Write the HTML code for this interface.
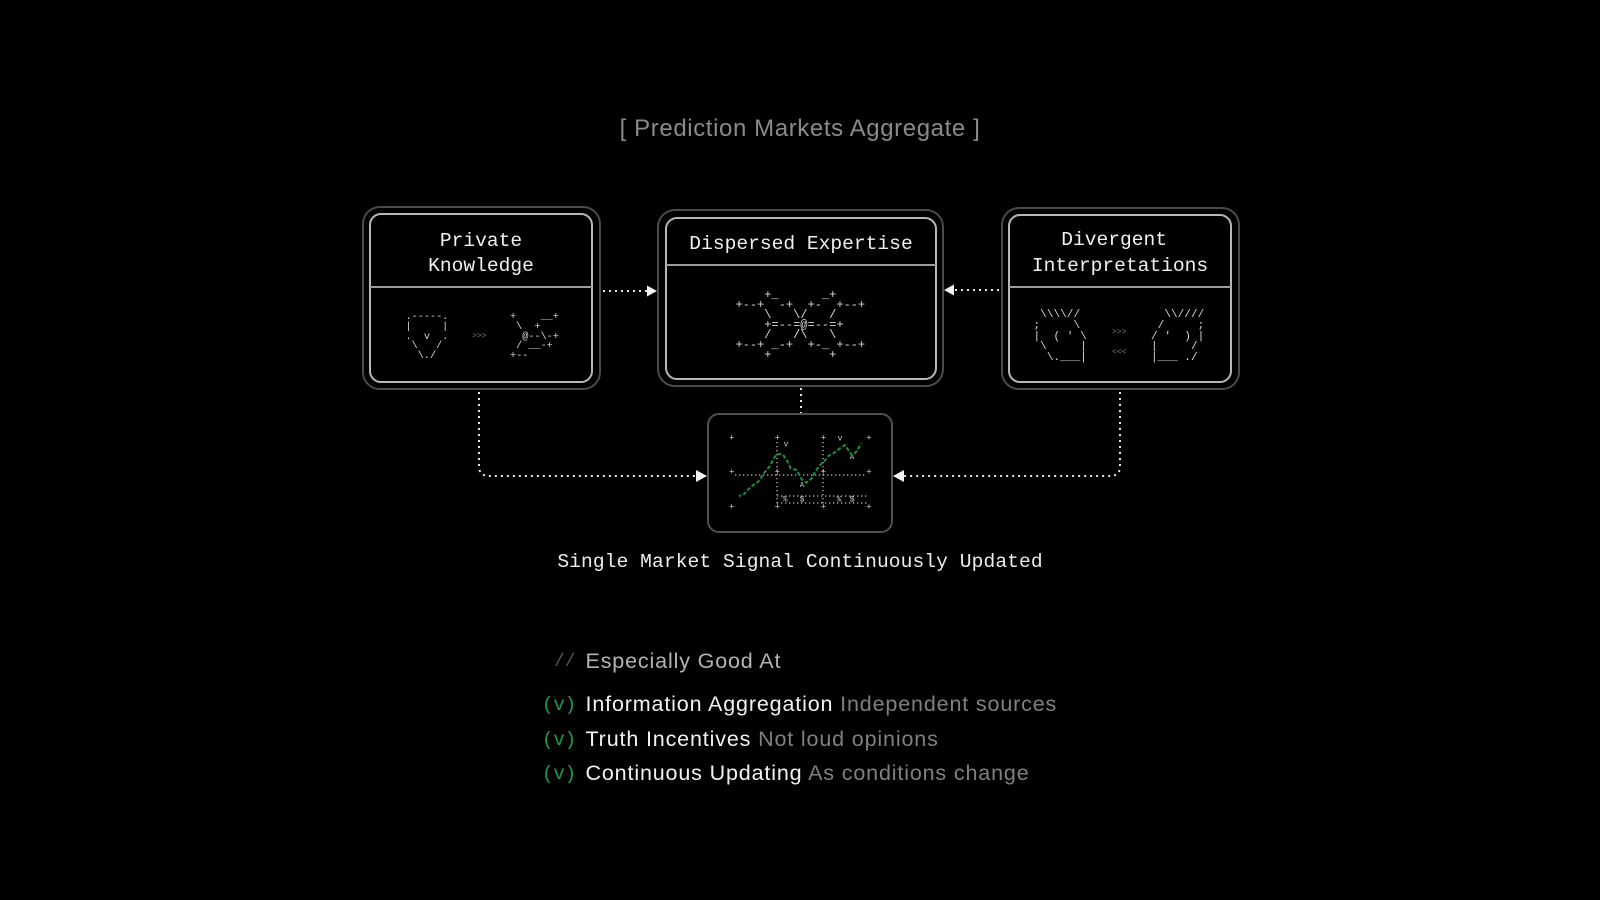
<!DOCTYPE html>
<html>
<head>
<meta charset="utf-8">
<style>
  html,body{margin:0;padding:0;background:#000;}
  #c{position:relative;width:1600px;height:900px;background:#000;overflow:hidden;}
  .abs{position:absolute;}
  .outer{position:absolute;box-sizing:border-box;border:2px solid #4a4a4a;border-radius:18px;}
  .inner{position:absolute;box-sizing:border-box;border:2px solid #b8b8b8;border-radius:12px;}
  .div{position:absolute;height:2px;background:#9c9c9c;}
  .ttl{position:absolute;font-family:"Liberation Mono",monospace;font-size:19.6px;color:#f0f0f0;text-align:center;white-space:pre;}
  .art{position:absolute;font-family:"Liberation Mono",monospace;white-space:pre;color:#d8d8d8;}
  .sans{font-family:"Liberation Sans",sans-serif;}
  .mono{font-family:"Liberation Mono",monospace;}
  .li{position:absolute;left:585.5px;font-family:"Liberation Sans",sans-serif;font-size:21.5px;letter-spacing:0.85px;line-height:24px;white-space:nowrap;}
</style>
</head>
<body>
<div id="c">

  <!-- Title -->
  <div class="abs sans" style="left:0;top:115px;width:1600px;text-align:center;font-size:24px;letter-spacing:0.6px;line-height:28px;color:#8a8a8a;">[ Prediction Markets Aggregate ]</div>

  <!-- Box 1 -->
  <div class="outer" style="left:362px;top:206px;width:239px;height:184px;"></div>
  <div class="inner" style="left:369px;top:213px;width:224px;height:170px;"></div>
  <div class="div" style="left:370px;top:286px;width:222px;"></div>
  <div class="ttl" style="left:369px;top:229px;width:224px;line-height:25px;">Private
Knowledge</div>
  <div class="art" style="left:405.5px;top:313px;font-size:10.2px;line-height:9.8px;">.-----.
|     |
.  v  .
 \   /
  \./</div>
  <div class="art" style="left:472px;top:332px;font-size:8px;line-height:9px;color:#7a7a7a;">&gt;&gt;&gt;</div>
  <div class="art" style="left:510px;top:313px;font-size:10.2px;line-height:9.8px;">+    __+
 \  +
  @--\-+
 / __-+
+--</div>

  <!-- Box 2 -->
  <div class="outer" style="left:657px;top:209px;width:287px;height:178px;"></div>
  <div class="inner" style="left:665px;top:217px;width:272px;height:163px;"></div>
  <div class="div" style="left:666px;top:264px;width:270px;"></div>
  <div class="ttl" style="left:665px;top:232px;width:272px;line-height:25px;">Dispersed Expertise</div>
  <div class="art" style="left:735.5px;top:290px;font-size:12px;line-height:10px;">    +_      _+
+--+  -+  +-  +--+
    \   \/   /
    +=--=@=--=+
    /   /\   \
+--+ _-+  +-_ +--+
    +        +</div>

  <!-- Box 3 -->
  <div class="outer" style="left:1001px;top:207px;width:239px;height:183px;"></div>
  <div class="inner" style="left:1008px;top:214px;width:224px;height:169px;"></div>
  <div class="div" style="left:1009px;top:286px;width:222px;"></div>
  <div class="ttl" style="left:1008px;top:227px;width:224px;line-height:26px;">Divergent 
Interpretations</div>
  <div class="art" style="left:1033.5px;top:310px;font-size:11.1px;line-height:10.8px;"> \\\\//
;     \
|  ( ' \
 \     |
  \.___|</div>
  <div class="art" style="left:1112px;top:323px;font-size:8px;line-height:20px;color:#7a7a7a;">&gt;&gt;&gt;
&lt;&lt;&lt;</div>
  <div class="art" style="left:1151px;top:310px;font-size:11.1px;line-height:10.8px;">  \\////
 /     ;
/ '  ) |
|     /
|___ ./</div>

  <!-- Chart box -->
  <div class="abs" style="left:707px;top:413px;width:186px;height:120px;box-sizing:border-box;border:2px solid #505050;border-radius:12px;"></div>

  <svg class="abs" style="left:0;top:0;" width="1600" height="900" viewBox="0 0 1600 900">
    <!-- connectors -->
    <g stroke="#e6e6e6" stroke-width="2" stroke-dasharray="2 4" fill="none">
      <path d="M603 291 H648"/>
      <path d="M999 290 H954"/>
      <path d="M801 388 V413"/>
      <path d="M479 392 V466 Q479 476 489 476 H697"/>
      <path d="M1120 392 V466 Q1120 476 1110 476 H903"/>
    </g>
    <g fill="#f2f2f2">
      <polygon points="657,291 647,285.5 647,296.5"/>
      <polygon points="944,290 954,284.5 954,295.5"/>
      <polygon points="707,476 696,470 696,482"/>
      <polygon points="893,476 904,470 904,482"/>
    </g>

    <!-- chart grid dotted lines -->
    <g stroke="#bdbdbd" stroke-width="1.3" stroke-dasharray="1.3 2.7" fill="none">
      <path d="M735 475 H867"/>
      <path d="M777 442 V505"/>
      <path d="M823 442 V505"/>
      <path d="M777 496 H867"/>
      <path d="M777 503 H867"/>
    </g>
    <g font-family="Liberation Mono, monospace" font-size="9" fill="#cfcfcf" text-anchor="middle" dominant-baseline="central">
      <text x="731.7" y="438.3">+</text>
      <text x="777.3" y="438.3">+</text>
      <text x="823.3" y="438.3">+</text>
      <text x="869" y="438.3">+</text>
      <text x="731.7" y="472.7">+</text>
      <text x="777.3" y="472.7">+</text>
      <text x="823.3" y="472.7">+</text>
      <text x="869" y="472.7">+</text>
      <text x="731.7" y="507.7">+</text>
      <text x="777.3" y="507.7">+</text>
      <text x="823.3" y="507.7">+</text>
      <text x="869" y="507.7">+</text>
      <text x="786" y="445" font-size="8">v</text>
      <text x="840" y="439" font-size="8">v</text>
      <text x="802" y="486" font-size="7">A</text>
      <text x="852" y="458" font-size="7">A</text>
      <text x="785" y="500" font-size="8">%</text>
      <text x="802" y="500" font-size="8">$</text>
      <text x="839" y="500" font-size="8">%</text>
      <text x="852" y="500" font-size="8">$</text>
    </g>
    <!-- green price line -->
    <polyline fill="none" stroke="#1e8c3c" stroke-width="2" stroke-dasharray="4 2"
      points="743.3,495 748.3,489.3 753.3,485 758.3,481.7 765,471.7 770,466 774,458.3 776.7,454.3 782.7,454.3 786.7,460 790.7,468.3 796.7,470 801.7,479.3 806.7,482.7 811.7,478.3 815,471.7 820,465 824,461.7 828.3,456 833.3,453.3 840,448.3 845,445 848.3,450 851.7,455 855,453.3 858.3,448.3 861.7,443.3"/>
    <text x="740" y="500" font-family="Liberation Mono, monospace" font-size="10" fill="#1e9a44" text-anchor="middle" dominant-baseline="central">*</text>
  </svg>

  <!-- Caption -->
  <div class="abs mono" style="left:0;top:550px;width:1600px;text-align:center;font-size:19.6px;letter-spacing:0.08px;line-height:24px;color:#ededed;">Single Market Signal Continuously Updated</div>

  <!-- List -->
  <div class="abs mono" style="left:554px;top:650px;font-size:18px;line-height:24px;color:#555;">//</div>
  <div class="li" style="top:649px;color:#b4b4b4;">Especially Good At</div>

  <div class="abs mono" style="left:542px;top:693px;font-size:19px;line-height:24px;color:#1f9a48;">(v)</div>
  <div class="li" style="top:692px;"><span style="color:#f2f2f2;">Information Aggregation</span> <span style="color:#808080;">Independent sources</span></div>

  <div class="abs mono" style="left:542px;top:728px;font-size:19px;line-height:24px;color:#1f9a48;">(v)</div>
  <div class="li" style="top:727px;"><span style="color:#f2f2f2;">Truth Incentives</span> <span style="color:#808080;">Not loud opinions</span></div>

  <div class="abs mono" style="left:542px;top:762px;font-size:19px;line-height:24px;color:#1f9a48;">(v)</div>
  <div class="li" style="top:761px;"><span style="color:#f2f2f2;">Continuous Updating</span> <span style="color:#808080;">As conditions change</span></div>

</div>
</body>
</html>
